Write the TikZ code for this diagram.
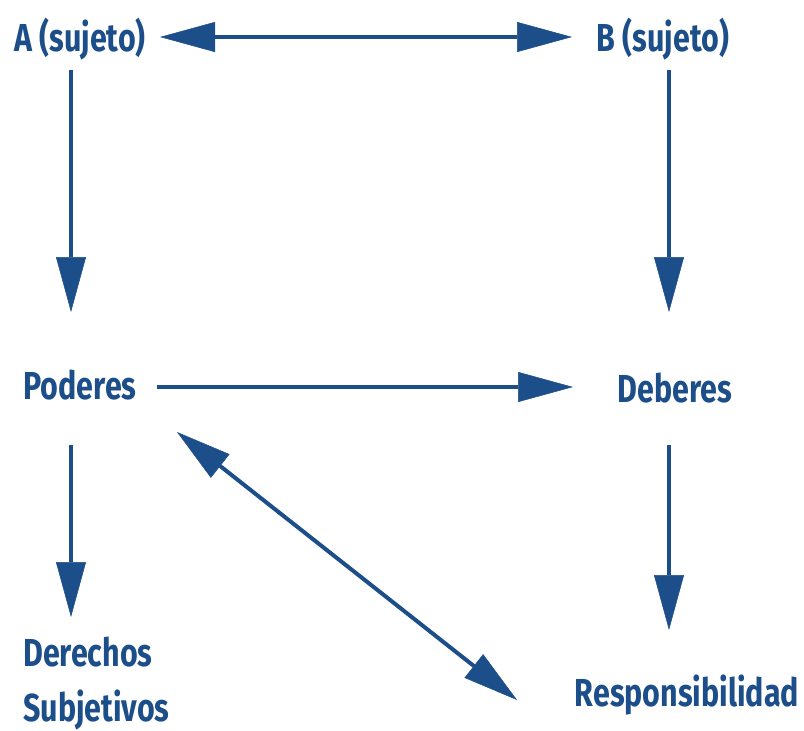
\documentclass[tikz,border=0pt]{standalone}
\usepackage{fontspec}
\setmainfont{Fira Sans}[FakeStretch=0.78]
\usepackage{tikz}
\usetikzlibrary{arrows.meta,calc,positioning}
\definecolor{azul}{RGB}{28,78,138}

\begin{document}
\begin{tikzpicture}[x=1pt,y=-1pt,
  every node/.style={inner sep=0pt,text=azul,font=\fontsize{39}{55}\selectfont\bfseries},
  flecha/.style={draw=azul,line width=4pt,
    >={Triangle[length=55pt,width=30pt,line width=0.5pt]}}]
\useasboundingbox (0,0) rectangle (804,731);
\node (A) at (80,39) {A (sujeto)};
\node (B) at (663,39) {B (sujeto)};
\node (P) at (80,385) {Poderes};
\node (D) at (675,388) {Deberes};
\node[anchor=west,align=left] (S) at (23,684) {Derechos\\Subjetivos};
\node (R) at (687,695) {Responsibilidad};
\draw[flecha,<->] ($(A)+(80,-2)$) -- ($(B)+(-91,-2)$);
\draw[flecha,->] ($(A)+(-9,31)$) -- ($(P)+(-9,-73)$);
\draw[flecha,->] ($(B)+(6,31)$) -- ($(D)+(-6,-76)$);
\draw[flecha,->] ($(P)+(77,2)$) -- ($(D)+(-102,-1)$);
\draw[flecha,->] ($(P)+(-9,60)$) -- ($(S.west)+(48,-67)$);
\draw[flecha,->] ($(D)+(-6,57)$) -- ($(R)+(-18,-65)$);
\draw[flecha,<->] ($(P)+(97,47)$) -- ($(R)+(-170,5)$);
\end{tikzpicture}
\end{document}
